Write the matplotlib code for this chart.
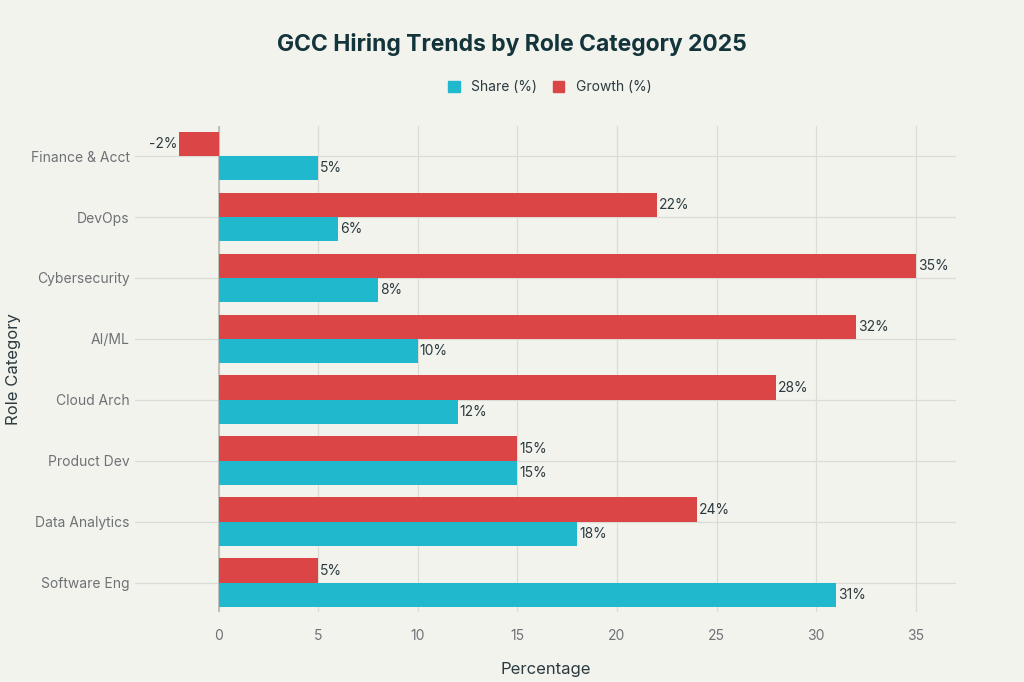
import numpy as np
import matplotlib.pyplot as plt
from matplotlib.patches import Patch

# data (bottom to top)
kategori = ['Software Eng', 'Data Analytics', 'Product Dev', 'Cloud Arch',
            'AI/ML', 'Cybersecurity', 'DevOps', 'Finance & Acct']
share = [31, 18, 15, 12, 10, 8, 6, 5]
growth = [5, 24, 15, 28, 32, 35, 22, -2]

warna_share = '#1FB8CD'
warna_growth = '#DB4545'
bg = '#F3F3EE'

plt.rcParams['font.family'] = ['Inter', 'DejaVu Sans']

fig = plt.figure(figsize=(10.24, 6.82), dpi=100, facecolor=bg)
ax = fig.add_axes([0.132, 0.1026, 0.802, 0.7124], facecolor=bg)

y = np.arange(len(kategori))
h = 0.4
b1 = ax.barh(y - h / 2, share, height=h, color=warna_share, zorder=3)
b2 = ax.barh(y + h / 2, growth, height=h, color=warna_growth, zorder=3)

for bars, vals in [(b1, share), (b2, growth)]:
    for bar, v in zip(bars, vals):
        cy = bar.get_y() + bar.get_height() / 2
        if v >= 0:
            ax.text(v + 0.1, cy, f'{v}%', va='center', ha='left',
                    fontsize=10, color='#2b3a3f', zorder=4)
        else:
            ax.text(v - 0.1, cy, f'{v}%', va='center', ha='right',
                    fontsize=10, color='#2b3a3f', zorder=4)

ax.set_xlim(-4.2, 37.05)
ax.set_ylim(-0.48, 7.49)
ax.set_yticks(y)
ax.set_yticklabels(kategori)
ax.set_xticks([0, 5, 10, 15, 20, 25, 30, 35])

ax.grid(True, color='#DCDCD6', linewidth=0.9, zorder=0)
ax.axvline(0, color='#B8B8B2', linewidth=1.2, zorder=2)
for s in ax.spines.values():
    s.set_visible(False)
ax.tick_params(axis='both', length=0, labelsize=10, labelcolor='#6e7275')
ax.tick_params(axis='x', pad=12)
ax.tick_params(axis='y', pad=4)

ax.set_xlabel('Percentage', fontsize=12, color='#2b3a3f', labelpad=14)
ax.set_ylabel('Role Category', fontsize=12, color='#2b3a3f', labelpad=7)

fig.text(0.5, 0.935, 'GCC Hiring Trends by Role Category 2025', ha='center',
         va='center', fontsize=16.5, fontweight='bold', color='#13343B')

handles = [Patch(color=warna_share, label='Share (%)'),
           Patch(color=warna_growth, label='Growth (%)')]
fig.legend(handles=handles, loc='center', bbox_to_anchor=(0.537, 0.872), ncol=2,
           frameon=False, fontsize=10, handlelength=0.8, handleheight=0.8,
           columnspacing=1.2, handletextpad=0.8, labelcolor='#2b3a3f')

fig.savefig('out.png', dpi=100, facecolor=bg)
